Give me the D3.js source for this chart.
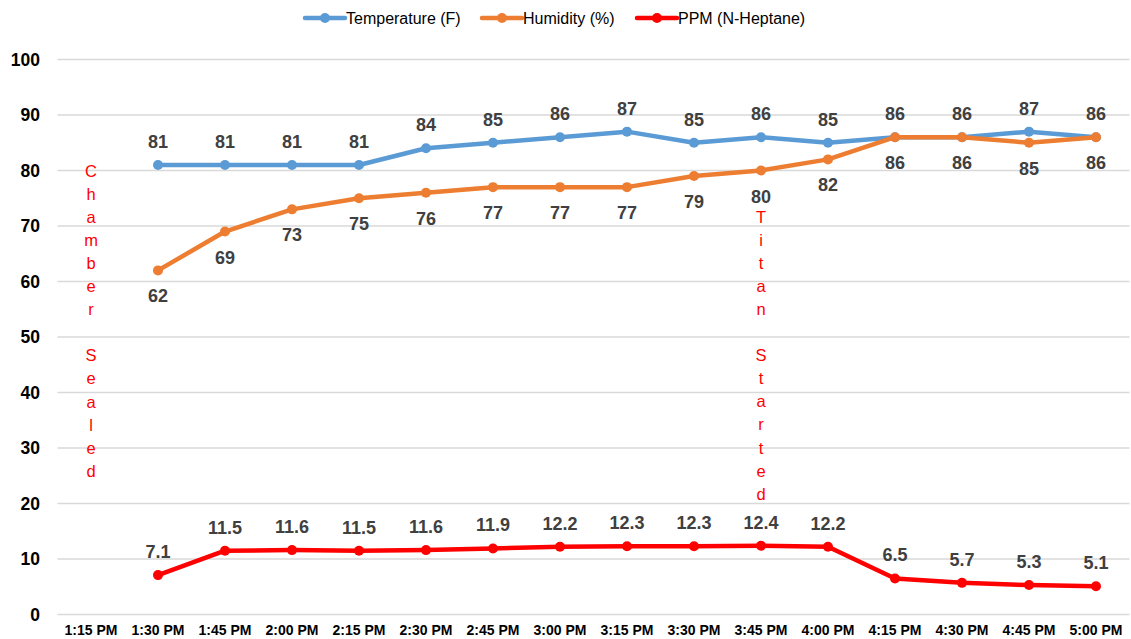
<!DOCTYPE html>
<html><head><meta charset="utf-8">
<script src="https://cdn.jsdelivr.net/npm/d3@7"></script>
<style>body{margin:0;background:#fff;font-family:"Liberation Sans",Arial,sans-serif;}</style>
</head><body><svg id="c" width="1131" height="639"></svg>
<script>
const categories = ["1:15 PM","1:30 PM","1:45 PM","2:00 PM","2:15 PM","2:30 PM","2:45 PM","3:00 PM","3:15 PM","3:30 PM","3:45 PM","4:00 PM","4:15 PM","4:30 PM","4:45 PM","5:00 PM"];
const temperature = [null,81,81,81,81,84,85,86,87,85,86,85,86,86,87,86];
const humidity = [null,62,69,73,75,76,77,77,77,79,80,82,86,86,85,86];
const ppm = [null,7.1,11.5,11.6,11.5,11.6,11.9,12.2,12.3,12.3,12.4,12.2,6.5,5.7,5.3,5.1];
const yTicks = [0,10,20,30,40,50,60,70,80,90,100];
const annotations = [{cat:"1:15 PM", text:"Chamber Sealed", top:80},{cat:"3:45 PM", text:"Titan Started", top:71.7}];

const series = [
  {name:"Temperature (F)", values:temperature, color:"#5b9bd5", labelPos:"above"},
  {name:"Humidity (%)", values:humidity, color:"#ed7d31", labelPos:"below"},
  {name:"PPM (N-Heptane)", values:ppm, color:"#ff0000", labelPos:"above"}
];

const svg = d3.select("#c");
const x = d3.scaleBand().domain(categories).range([57.5,1129.5]);
const y = d3.scaleLinear().domain([0,100]).range([614.5,59.5]);
const cx = c => x(c) + x.bandwidth()/2;

// gridlines
svg.append("g").selectAll("line").data(yTicks).join("line")
  .attr("x1",57.5).attr("x2",1129.5)
  .attr("y1",d=>y(d)).attr("y2",d=>y(d))
  .attr("stroke","#d9d9d9").attr("stroke-width",1.3);

// y axis
const yAxis = svg.append("g").attr("transform","translate(40,0)")
  .call(d3.axisLeft(y).tickValues(yTicks).tickSize(0).tickPadding(0));
yAxis.select(".domain").remove();
yAxis.selectAll("text").attr("font-family","'Liberation Sans',Arial,sans-serif")
  .attr("font-size",17.5).attr("font-weight","bold").attr("fill","#000");

// x axis
const xAxis = svg.append("g").attr("transform","translate(0,614.5)")
  .call(d3.axisBottom(x).tickSize(0).tickPadding(11));
xAxis.select(".domain").remove();
xAxis.selectAll("text").attr("font-family","'Liberation Sans',Arial,sans-serif")
  .attr("font-size",14).attr("font-weight","bold").attr("fill","#000");

// annotations
annotations.forEach(a=>{
  const letters = a.text.split("");
  svg.append("g").selectAll("text").data(letters).join("text")
    .attr("x",cx(a.cat)).attr("y",(d,i)=>y(a.top)+6+i*23.1)
    .attr("text-anchor","middle").attr("font-size",16.5)
    .attr("fill","#ff0000").text(d=>d);
});

// series
series.forEach(s=>{
  const pts = categories.map((c,i)=>({c, v:s.values[i]})).filter(p=>p.v!==null);
  const line = d3.line().x(p=>cx(p.c)).y(p=>y(p.v));
  svg.append("path").datum(pts).attr("d",line)
    .attr("fill","none").attr("stroke",s.color).attr("stroke-width",4.5)
    .attr("stroke-linejoin","round").attr("stroke-linecap","round");
  svg.append("g").selectAll("circle").data(pts).join("circle")
    .attr("cx",p=>cx(p.c)).attr("cy",p=>y(p.v)).attr("r",5).attr("fill",s.color);
  svg.append("g").selectAll("text").data(pts).join("text")
    .attr("x",p=>cx(p.c)).attr("y",p=>y(p.v)+(s.labelPos==="above"?-17:32))
    .attr("text-anchor","middle").attr("font-size",18).attr("font-weight","bold")
    .attr("fill","#404040").text(p=>p.v);
});

// legend
const legendX = [305,482,637];
const lg = svg.append("g");
series.forEach((s,i)=>{
  const g = lg.append("g").attr("transform",`translate(${legendX[i]},18)`);
  g.append("line").attr("x1",0).attr("x2",40).attr("y1",0).attr("y2",0)
    .attr("stroke",s.color).attr("stroke-width",4.5).attr("stroke-linecap","round");
  g.append("circle").attr("cx",20).attr("cy",0).attr("r",5).attr("fill",s.color);
  g.append("text").attr("x",41).attr("y",5.5).attr("font-size",16).attr("fill","#000").text(s.name);
});
</script></body></html>
